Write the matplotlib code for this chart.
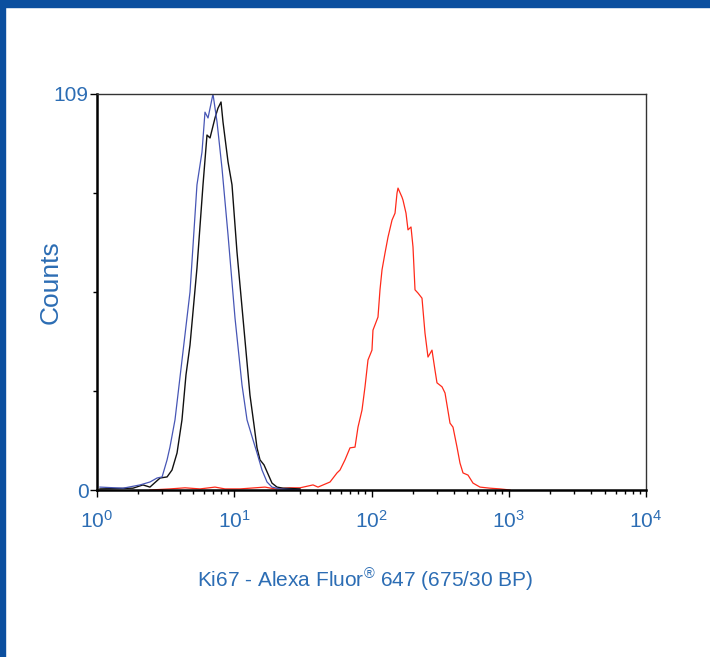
import matplotlib
matplotlib.use("Agg")
import matplotlib.pyplot as plt
from matplotlib.patches import Rectangle
from matplotlib.ticker import FixedLocator, LogLocator, NullFormatter

plt.rcParams['font.family'] = ['Liberation Sans', 'DejaVu Sans']
plt.rcParams['mathtext.default'] = 'regular'

# fluorescence intensity (channel value) and counts
blue_x = [1.05, 1.55, 2.06, 2.43, 2.74, 2.98, 3.24, 3.40, 3.70, 4.23, 4.76, 5.01, 5.35,
          5.82, 6.12, 6.44, 7.00, 7.49, 8.14, 9.01, 10.13, 11.39, 12.39, 13.70, 14.65,
          15.93, 17.33, 18.84, 21.54, 30.1]
blue_y = [0.8, 0.5, 1.4, 2.2, 3.3, 3.6, 8.3, 11.8, 19.3, 38.0, 54.5, 67.4, 84.0,
          93.0, 104.0, 102.4, 109.0, 101.3, 88.6, 70.2, 47.3, 28.9, 19.3, 13.8, 10.2,
          5.5, 2.2, 0.8, 0.3, 0.0]

black_x = [1.05, 1.83, 2.16, 2.43, 2.88, 3.24, 3.52, 3.83, 4.16, 4.45, 4.76, 5.35, 5.92,
           6.33, 6.66, 7.24, 7.61, 8.01, 8.28, 9.01, 9.63, 10.47, 11.58, 13.02, 13.93,
           14.65, 15.40, 16.48, 17.62, 18.84, 20.49, 22.66, 30.1]
black_y = [0.3, 0.5, 1.4, 0.8, 3.3, 3.6, 5.5, 10.2, 19.3, 31.7, 39.9, 61.1, 84.0,
           97.7, 96.9, 102.4, 105.1, 106.8, 101.3, 90.3, 84.0, 65.5, 47.3, 26.1, 17.9,
           11.6, 8.3, 6.9, 4.4, 1.9, 0.8, 0.5, 0.3]

red_x = [2.43, 3.40, 4.38, 5.63, 7.24, 8.56, 11.01, 14.17, 16.75, 19.81, 25.48, 30.14,
         37.49, 40.76, 49.86, 56.07, 58.96, 64.11, 69.72, 75.83, 79.73, 85.27, 89.67,
         94.29, 100.8, 102.5, 111.5, 115.3, 119.3, 125.4, 131.9, 141.1, 148.4, 153.4,
         156.0, 166.8, 169.6, 178.4, 184.5, 194.0, 200.6, 207.5, 218.2, 233.3, 245.3,
         258.0, 275.9, 290.1, 300.0, 326.5, 343.3, 373.3, 392.5, 419.8, 441.4, 464.2,
         504.9, 549.0, 617.3, 730.0, 863.6, 1021]
red_y = [0.0, 0.3, 0.6, 0.3, 0.8, 0.3, 0.3, 0.6, 0.8, 0.3, 0.6, 0.6,
         1.4, 0.8, 2.2, 4.7, 5.5, 8.3, 11.6, 11.8, 17.3, 22.0, 28.4,
         35.8, 38.5, 44.0, 47.6, 55.1, 60.6, 65.2, 69.6, 74.3, 76.2, 81.7,
         83.1, 80.6, 79.8, 76.2, 71.6, 72.4, 66.9, 55.1, 54.2, 52.8, 43.2,
         36.6, 38.5, 33.0, 29.5, 28.4, 26.7, 18.4, 17.3, 11.8, 7.4, 4.7,
         4.1, 1.9, 0.8, 0.5, 0.3, 0.0]

text_blue = '#2c6db4'
frame_blue = '#0b4f9f'

fig = plt.figure(figsize=(7.10, 6.57), dpi=100)
fig.patch.set_facecolor('white')
# blue page frame around the white panel
fig.patches.append(Rectangle((0, 1 - 7 / 657), 1, 7 / 657, transform=fig.transFigure,
                             color=frame_blue, zorder=0))
fig.patches.append(Rectangle((0, 0), 5 / 710, 1, transform=fig.transFigure,
                             color=frame_blue, zorder=0))

ax = fig.add_axes([97 / 710, 1 - 490 / 657, 549 / 710, 396 / 657])
ax.plot(red_x, red_y, color='#ff2a1a', lw=0.9)
ax.plot(black_x, black_y, color='#111111', lw=1.0)
ax.plot(blue_x, blue_y, color='#4756b5', lw=0.9)

ax.set_xscale('log')
ax.set_xlim(1, 1e4)
ax.set_ylim(0, 109)

ax.xaxis.set_minor_locator(LogLocator(base=10, subs=range(2, 10)))
ax.xaxis.set_minor_formatter(NullFormatter())
ax.set_yticks([0, 109])
ax.set_yticklabels(['0', '109'])
ax.yaxis.set_minor_locator(FixedLocator([27.25, 54.5, 81.75]))

ax.tick_params(axis='both', which='major', direction='out', length=5, width=1,
               colors='black', labelcolor=text_blue, labelsize=15)
ax.tick_params(axis='both', which='minor', direction='out', length=3, width=1,
               colors='black')
ax.tick_params(axis='x', which='major', pad=9)
ax.tick_params(axis='y', which='major', pad=1)

for side in ['left', 'bottom']:
    ax.spines[side].set_linewidth(1.8)
    ax.spines[side].set_color('black')
for side in ['top', 'right']:
    ax.spines[side].set_linewidth(1.0)
    ax.spines[side].set_color('#333333')

ax.set_ylabel('Counts', color=text_blue, fontsize=19)
ax.yaxis.set_label_coords(-0.062, 0.525)
ax.set_xlabel('Ki67 - Alexa Fluor$^{®}$ 647 (675/30 BP)', color=text_blue, fontsize=15)
ax.xaxis.set_label_coords(0.488, -0.194)

fig.savefig('out.png', dpi=100, facecolor=fig.get_facecolor())
